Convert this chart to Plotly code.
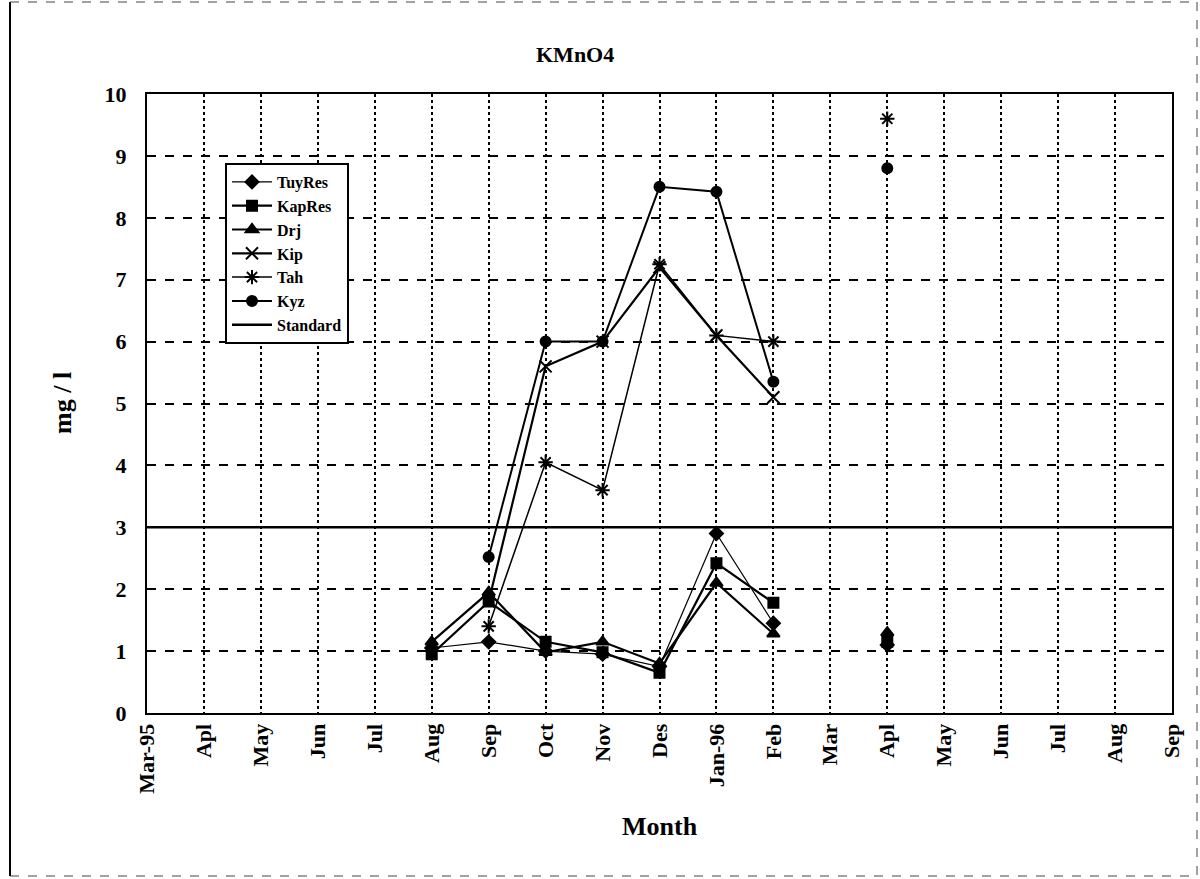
import plotly.graph_objects as go

months = ["Mar-95", "Apl", "May", "Jun", "Jul", "Aug", "Sep", "Oct", "Nov", "Des",
          "Jan-96", "Feb", "Mar", "Apl", "May", "Jun", "Jul", "Aug", "Sep"]
N = None
tuyres = [N, N, N, N, N, 1.05, 1.15, 1.0, 0.95, 0.75, 2.9, 1.45, N, 1.1, N, N, N, N, N]
kapres = [N, N, N, N, N, 0.95, 1.8, 1.15, 0.98, 0.65, 2.42, 1.78, N, 1.15, N, N, N, N, N]
drj = [N, N, N, N, N, 1.15, 1.95, 0.98, 1.15, 0.8, 2.1, 1.28, N, 1.3, N, N, N, N, N]
kip = [N, N, N, N, N, N, 1.8, 5.6, 6.0, 7.2, 6.1, 5.1, N, N, N, N, N, N, N]
tah = [N, N, N, N, N, N, 1.4, 4.05, 3.6, 7.25, 6.1, 6.0, N, 9.6, N, N, N, N, N]
kyz = [N, N, N, N, N, N, 2.52, 6.0, 6.0, 8.5, 8.42, 5.35, N, 8.8, N, N, N, N, N]
standard = [3] * len(months)

xpos = list(range(len(months)))
FONT = "Liberation Serif"

W, H = 1200, 879
L, R, T, B = 147, 28, 94, 166
pw, ph = W - L - R, H - T - B


def px2paper(px, py):
    return (px - L) / pw, (H - B - py) / ph


fig = go.Figure()

series = [
    ("TuyRes", tuyres, "diamond", 10, 1.2),
    ("KapRes", kapres, "square", 10, 2.2),
    ("Drj", drj, "triangle-up", 11, 2.2),
    ("Kip", kip, "x-thin-open", 12, 2.2),
    ("Tah", tah, "asterisk-open", 12, 1.5),
    ("Kyz", kyz, "circle", 10, 2.0),
]
for name, vals, sym, size, lw in series:
    fig.add_trace(go.Scatter(
        x=xpos, y=vals, name=name, mode="lines+markers",
        line=dict(color="black", width=lw),
        marker=dict(symbol=sym, size=size, color="black",
                    line=dict(color="black", width=2)),
        connectgaps=False,
    ))

fig.add_trace(go.Scatter(
    x=xpos, y=standard, name="Standard", mode="lines",
    line=dict(color="black", width=2.5),
))

anns = []
for text, px, py, size, angle in [("KMnO4", 575, 55, 22, 0),
                                  ("Month", 660, 826, 26, 0),
                                  ("mg / l", 62, 403, 26, -90)]:
    ax, ay = px2paper(px, py)
    anns.append(dict(text=text, x=ax, y=ay, xref="paper", yref="paper",
                     xanchor="center", yanchor="middle", showarrow=False,
                     textangle=angle,
                     font=dict(family=FONT, size=size, weight="bold", color="black")))

lx, ly = px2paper(225, 163)

fig.update_layout(
    width=W, height=H,
    margin=dict(l=L, r=R, t=T, b=B),
    paper_bgcolor="white", plot_bgcolor="white",
    font=dict(family=FONT, color="black"),
    showlegend=True,
    legend=dict(
        x=lx, y=ly, xanchor="left", yanchor="top",
        bgcolor="white", bordercolor="black", borderwidth=2,
        font=dict(family=FONT, size=16, color="black", weight="bold"),
        itemwidth=40, tracegroupgap=0,
    ),
    xaxis=dict(
        range=[0, 18], tickvals=xpos, ticktext=months, tickangle=-90,
        showgrid=True, gridcolor="black", gridwidth=2, griddash="dot",
        showline=True, linecolor="black", linewidth=2, mirror=True,
        zeroline=False, ticks="",
        tickfont=dict(family=FONT, size=22, weight="bold", color="black"),
    ),
    yaxis=dict(
        range=[0, 10], dtick=1, tick0=0,
        showgrid=True, gridcolor="black", gridwidth=2, griddash="dash",
        showline=True, linecolor="black", linewidth=2, mirror=True,
        zeroline=False, ticks="", ticklabelstandoff=14,
        tickfont=dict(family=FONT, size=22, weight="bold", color="black"),
    ),
    annotations=anns,
)

# outer chart frame
x0, y0 = px2paper(10, 2)
x1, y1 = px2paper(1197, 876)
fig.add_shape(type="line", xref="paper", yref="paper", x0=x0, x1=x0, y0=y0, y1=y1,
              line=dict(color="black", width=2))
for (a, b, c, d) in [(x0, y0, x1, y0), (x0, y1, x1, y1), (x1, y0, x1, y1)]:
    fig.add_shape(type="line", xref="paper", yref="paper", x0=a, y0=b, x1=c, y1=d,
                  line=dict(color="#444", width=1, dash="dash"))

fig.write_html("out.html", config={"displayModeBar": False},
               post_script="document.body.style.margin='0';")
